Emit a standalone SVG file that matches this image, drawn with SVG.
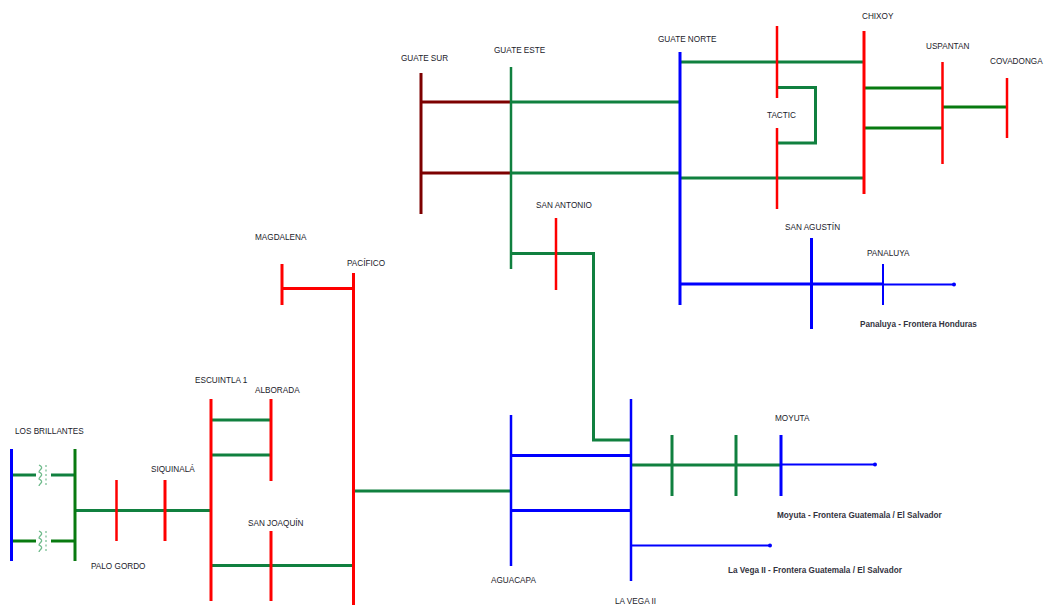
<svg xmlns="http://www.w3.org/2000/svg" width="1045" height="605" viewBox="0 0 1045 605">
<style>
text{font-family:"Liberation Sans",Arial,sans-serif;font-size:8.2px;fill:#1a1a2a}
.b{font-weight:bold;font-size:8.2px;fill:#333340}
line,path{fill:none;stroke-linecap:butt}
.g{stroke:#10803f;stroke-width:3}
.dg{stroke:#087a10;stroke-width:3}
.gt{stroke:#10803f;stroke-width:2.500}
.r{stroke:#fe0000;stroke-width:3}
.rt{stroke:#fe0000;stroke-width:2.500}
.bl{stroke:#0000fe;stroke-width:3}
.blt{stroke:#0000fe;stroke-width:2.500}
.tail{stroke:#0000fe;stroke-width:2}
.m{stroke:#7d0000;stroke-width:3}
.c{stroke:#6fbb8c;stroke-width:1.300}
.d{stroke:#8fc9a5;stroke-width:1.500;stroke-dasharray:2 2.500}
</style>
<defs>
<g id="xf"><path class="c" d="M39 465q4 2 2 4t-2 3q4 2 2 4t-2 3q4 2 2 4t-2 3"/><line class="d" x1="46" y1="465" x2="46" y2="487"/></g>
</defs>
<rect width="1045" height="605" fill="#fff"/>
<g id="connectors">
<line class="m" x1="421" y1="102" x2="511" y2="102"/>
<line class="m" x1="421" y1="173" x2="511" y2="173"/>
<line class="g" x1="511" y1="102" x2="680" y2="102"/>
<line class="g" x1="511" y1="173" x2="680" y2="173"/>
<line class="g" x1="680" y1="62" x2="864" y2="62"/>
<line class="g" x1="680" y1="178" x2="864" y2="178"/>
<path class="g" d="M777 87.500H815.500V143H777"/>
<line class="dg" x1="864" y1="88" x2="942" y2="88"/>
<line class="dg" x1="864" y1="128" x2="942" y2="128"/>
<line class="dg" x1="942" y1="107" x2="1007" y2="107"/>
<path class="g" d="M511 253.500H593.500V440H631"/>
<line class="bl" x1="680" y1="284" x2="883" y2="284"/>
<line class="tail" x1="883" y1="284.500" x2="954" y2="284.500"/>
<circle cx="954" cy="284.500" r="2" fill="#0000fe"/>
<line class="r" x1="282" y1="288.500" x2="353" y2="288.500"/>
<line class="g" x1="353" y1="491" x2="511" y2="491"/>
<line class="bl" x1="511" y1="455.500" x2="631" y2="455.500"/>
<line class="bl" x1="511" y1="510.500" x2="631" y2="510.500"/>
<line class="g" x1="631" y1="465" x2="781" y2="465"/>
<line class="tail" x1="781" y1="464.500" x2="875" y2="464.500"/>
<circle cx="875" cy="464.500" r="2" fill="#0000fe"/>
<line class="tail" x1="631" y1="545.500" x2="770" y2="545.500"/>
<circle cx="770" cy="545.500" r="2" fill="#0000fe"/>
<line class="g" x1="211" y1="420" x2="271" y2="420"/>
<line class="g" x1="211" y1="455" x2="271" y2="455"/>
<line class="g" x1="211" y1="565.500" x2="353" y2="565.500"/>
<line class="g" x1="75" y1="510.500" x2="211" y2="510.500"/>
<line class="g" x1="12" y1="475" x2="36" y2="475"/>
<line class="g" x1="51" y1="475" x2="75" y2="475"/>
<line class="dg" x1="12" y1="541" x2="36" y2="541"/>
<line class="dg" x1="51" y1="541" x2="75" y2="541"/>
<use href="#xf"/>
<use href="#xf" y="66"/>
</g>
<g id="guate-sur"><line class="m" x1="421" y1="73" x2="421" y2="214"/><text x="401" y="61">GUATE SUR</text></g>
<g id="guate-este"><line class="gt" x1="511" y1="67" x2="511" y2="269"/><text x="494" y="53">GUATE ESTE</text></g>
<g id="guate-norte"><line class="bl" x1="680" y1="52" x2="680" y2="305"/><text x="658" y="42">GUATE NORTE</text></g>
<g id="tactic"><line class="rt" x1="777" y1="26" x2="777" y2="98"/><line class="rt" x1="777" y1="128" x2="777" y2="209"/><text x="767" y="118">TACTIC</text></g>
<g id="chixoy"><line class="r" x1="864" y1="31" x2="864" y2="194"/><text x="862" y="19">CHIXOY</text></g>
<g id="uspantan"><line class="rt" x1="942.500" y1="62" x2="942.500" y2="164"/><text x="926" y="49">USPANTAN</text></g>
<g id="covadonga"><line class="rt" x1="1007" y1="78" x2="1007" y2="138"/><text x="990" y="64">COVADONGA</text></g>
<g id="san-antonio"><line class="rt" x1="556" y1="218" x2="556" y2="290"/><text x="536" y="208">SAN ANTONIO</text></g>
<g id="san-agustin"><line class="bl" x1="811.500" y1="238" x2="811.500" y2="329"/><text x="785" y="230">SAN AGUSTÍN</text></g>
<g id="panaluya"><line class="tail" x1="883" y1="264" x2="883" y2="305"/><text x="867" y="256">PANALUYA</text><text class="b" x="860" y="327">Panaluya - Frontera Honduras</text></g>
<g id="magdalena"><line class="r" x1="282" y1="264" x2="282" y2="305"/><text x="255" y="240">MAGDALENA</text></g>
<g id="pacifico"><line class="r" x1="353.500" y1="273" x2="353.500" y2="605"/><text x="347" y="266">PACÍFICO</text></g>
<g id="escuintla"><line class="r" x1="211" y1="399" x2="211" y2="601"/><text x="195" y="383">ESCUINTLA 1</text></g>
<g id="alborada"><line class="r" x1="271" y1="399" x2="271" y2="481"/><text x="255" y="393">ALBORADA</text></g>
<g id="san-joaquin"><line class="r" x1="271" y1="531" x2="271" y2="601"/><text x="248" y="526">SAN JOAQUÍN</text></g>
<g id="siquinala"><line class="r" x1="165" y1="480" x2="165" y2="541"/><text x="151" y="472">SIQUINALÁ</text></g>
<g id="palo-gordo"><line class="rt" x1="116.500" y1="480" x2="116.500" y2="541"/><text x="91" y="569">PALO GORDO</text></g>
<g id="los-brillantes"><line class="bl" x1="11.500" y1="449" x2="11.500" y2="561"/><line class="dg" x1="75" y1="449" x2="75" y2="561"/><text x="15" y="434">LOS BRILLANTES</text></g>
<g id="aguacapa"><line class="blt" x1="511" y1="415" x2="511" y2="566"/><text x="491" y="583">AGUACAPA</text></g>
<g id="la-vega"><line class="blt" x1="631" y1="399" x2="631" y2="581"/><text x="615" y="604">LA VEGA II</text><text class="b" x="728" y="573">La Vega II - Frontera Guatemala / El Salvador</text></g>
<g id="moyuta"><line class="bl" x1="781" y1="435" x2="781" y2="496"/><text x="775" y="421">MOYUTA</text><text class="b" x="777" y="518">Moyuta - Frontera Guatemala / El Salvador</text></g>
<g id="bus-672"><line class="g" x1="672" y1="435" x2="672" y2="496"/></g>
<g id="bus-736"><line class="g" x1="736" y1="435" x2="736" y2="496"/></g>
</svg>
